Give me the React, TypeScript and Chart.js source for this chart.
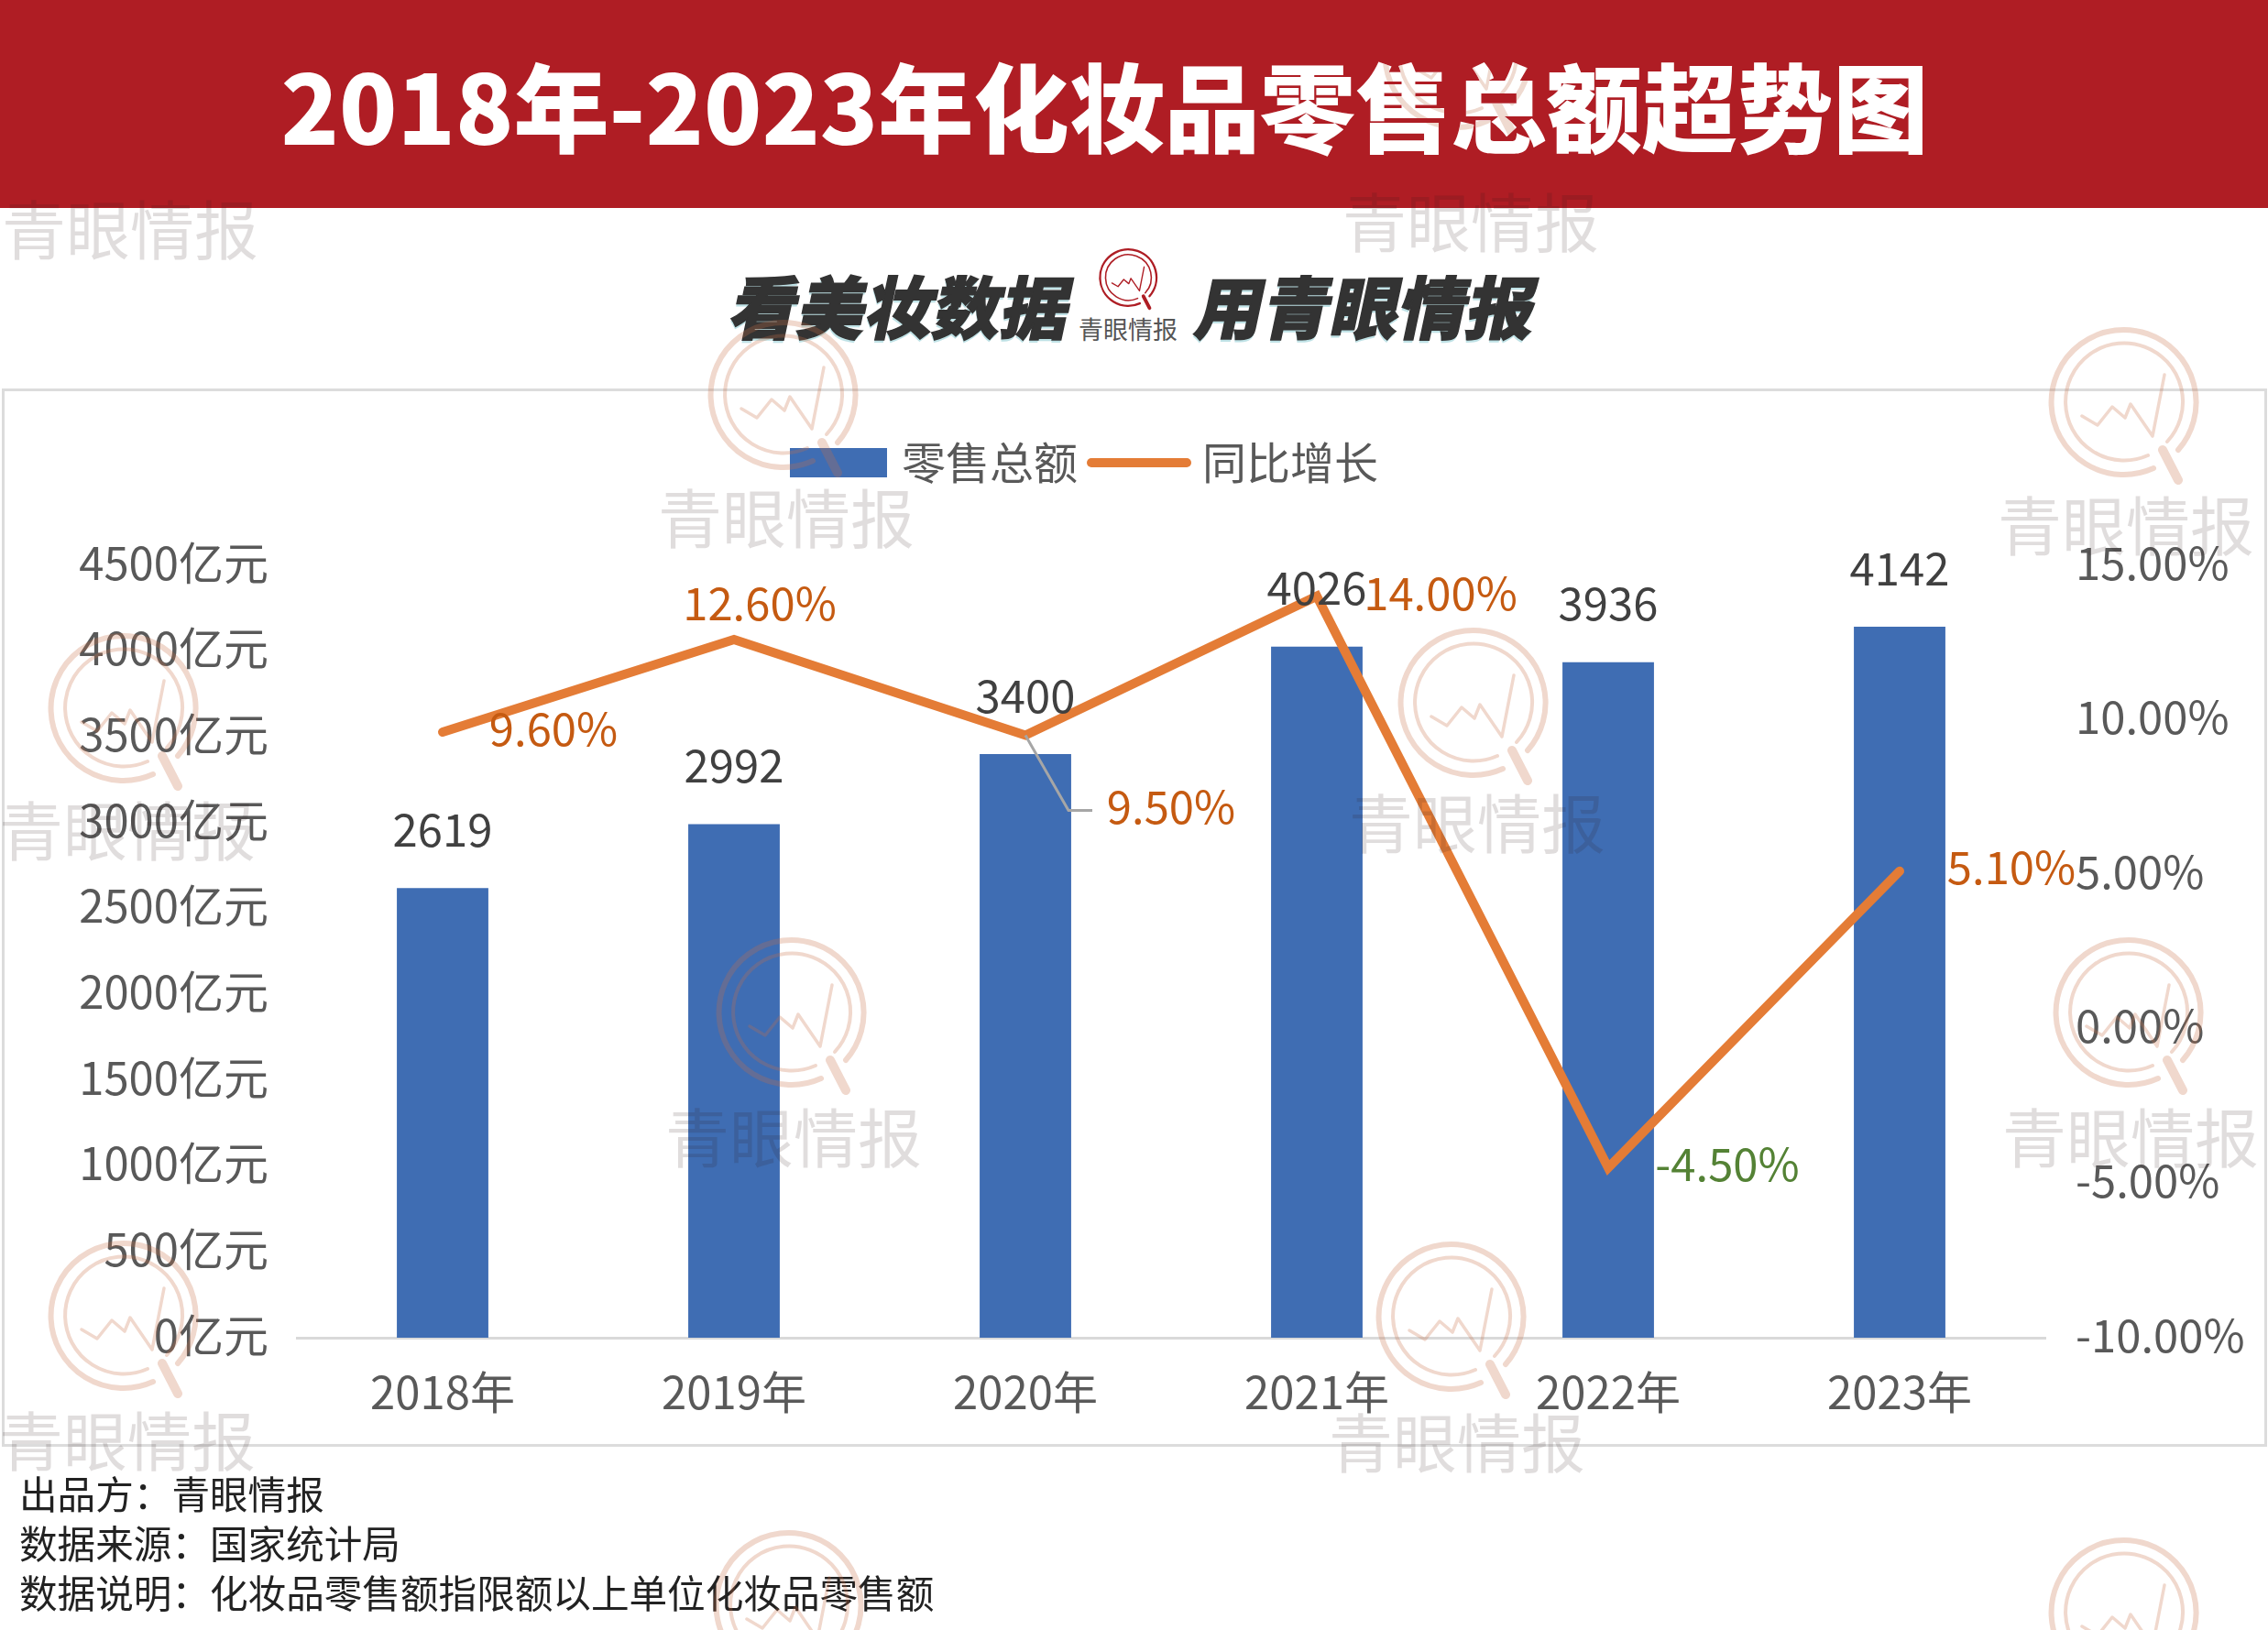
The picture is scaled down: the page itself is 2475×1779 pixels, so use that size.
import React, { useEffect, useRef } from "react";
import { Chart, registerables } from "chart.js";

Chart.register(...registerables);

const categories = ["2018年", "2019年", "2020年", "2021年", "2022年", "2023年"];
const retailTotals = [2619, 2992, 3400, 4026, 3936, 4142];
const yoyGrowth = [9.6, 12.6, 9.5, 14.0, -4.5, 5.1];
const seriesNames = ["零售总额", "同比增长"];
const titleText = "2018年-2023年化妆品零售总额超势图";
const footerLines = ["出品方:青眼情报", "数据来源:国家统计局", "数据说明:化妆品零售额指限额以上单位化妆品零售额"].map((s) => s.replace(":", "\uFF1A"));

const growthLabelOffsets = [[121, -4], [28, -40], [159, 78], [135, -3], [130, -4], [122, -4]];
const wmTexts = [[142, 250], [1605, 242], [858, 565], [2320, 573], [139, 906], [1612, 898], [866, 1241], [2325, 1241], [139, 1572], [1590, 1574]];
const wmIcons = [[854, 431], [2317, 439], [134, 773], [1607, 767], [863, 1105], [2322, 1105], [134, 1436], [1583, 1437], [860, 1752], [2317, 1760]];
const titleWmIcon = [1590, 60];

const FONT = '"Noto Sans CJK SC", "Noto Sans", sans-serif';
const BLUE = "#3F6DB3";
const ORANGE = "#E47C36";
const BAR_GREY = "#595959";

function legendSwatch(w: number, h: number, color: string, round: boolean) {
  const c = document.createElement("canvas");
  c.width = w;
  c.height = h;
  const x = c.getContext("2d")!;
  x.fillStyle = color;
  if (round) {
    x.beginPath();
    x.roundRect(0, 0, w, h, h / 2);
    x.fill();
  } else {
    x.fillRect(0, 0, w, h);
  }
  return c;
}

const placementPlugin = {
  id: "placement",
  afterLayout(chart: any) {
    const l = chart.legend;
    if (!l) return;
    l.left = 848;
    l.right = 2400;
    l.top = 459;
  },
};

const labelPlugin = {
  id: "dataLabels",
  afterDatasetsDraw(chart: any) {
    const { ctx } = chart;
    const x = chart.scales.x;
    const yL = chart.scales.yL;
    const yR = chart.scales.yR;
    ctx.save();
    ctx.font = `49px ${FONT}`;
    ctx.textAlign = "center";
    ctx.textBaseline = "middle";
    retailTotals.forEach((v, i) => {
      ctx.fillStyle = "#404040";
      ctx.fillText(String(v), x.getPixelForValue(i), yL.getPixelForValue(v) - 64);
    });
    // leader line of the 2020 label
    const px = x.getPixelForValue(2);
    const py = yR.getPixelForValue(yoyGrowth[2]);
    ctx.strokeStyle = "#A6A6A6";
    ctx.lineWidth = 3;
    ctx.beginPath();
    ctx.moveTo(px, py);
    ctx.lineTo(px + 47, py + 82);
    ctx.lineTo(px + 73, py + 82);
    ctx.stroke();
    yoyGrowth.forEach((v, i) => {
      ctx.fillStyle = v < 0 ? "#548235" : "#C55A11";
      const [dx, dy] = growthLabelOffsets[i];
      ctx.fillText(`${v.toFixed(2)}%`, x.getPixelForValue(i) + dx, yR.getPixelForValue(v) + dy);
    });
    ctx.restore();
  },
};

function Icon({ cx, cy, scale, color, opacity }: any) {
  return (
    <g transform={`translate(${cx} ${cy}) scale(${scale})`} fill="none" stroke={color} strokeLinecap="round" strokeLinejoin="round" opacity={opacity}>
      <path d="M 60 52 A 79 79 0 1 0 33 72" strokeWidth={6} />
      <path d="M 48 43 A 64 64 0 1 0 27 58" strokeWidth={4} />
      <polyline points="-45,15 -28,25 -12,5 2,17 8,2 32,37 45,-30" strokeWidth={3.5} />
      <path d="M 43 52 L 60 85" strokeWidth={10} />
    </g>
  );
}

export default function App() {
  const ref = useRef<HTMLCanvasElement>(null);
  useEffect(() => {
    document.body.style.margin = "0";
    document.body.style.background = "#fff";
    const swatches = [legendSwatch(106, 32, BLUE, false), legendSwatch(114, 10, ORANGE, true)];
    const chart = new Chart(ref.current!, {
      type: "bar",
      data: {
        labels: categories,
        datasets: [
          { type: "line", label: seriesNames[1], data: yoyGrowth, yAxisID: "yR", borderColor: ORANGE, borderWidth: 10, pointRadius: 0, tension: 0, order: 0, borderJoinStyle: "miter", borderCapStyle: "round" } as any,
          { type: "bar", label: seriesNames[0], data: retailTotals, yAxisID: "yL", backgroundColor: BLUE, barPercentage: 1, categoryPercentage: 0.314, order: 1 } as any,
        ],
      },
      plugins: [placementPlugin, labelPlugin],
      options: {
        responsive: false,
        animation: false,
        layout: { padding: { left: 64, right: 3, top: 537, bottom: 219 } },
        plugins: {
          title: { display: false },
          tooltip: { enabled: false },
          legend: {
            display: true,
            position: "top",
            align: "start",
            labels: {
              usePointStyle: true,
              pointStyleWidth: 90,
              boxHeight: 32,
              boxWidth: 90,
              padding: 22,
              font: { family: FONT, size: 48 },
              color: BAR_GREY,
              generateLabels: () => [
                { text: seriesNames[0], pointStyle: swatches[0], fontColor: BAR_GREY, lineWidth: 0, strokeStyle: "transparent", fillStyle: BLUE, hidden: false, datasetIndex: 1 },
                { text: seriesNames[1], pointStyle: swatches[1], fontColor: BAR_GREY, lineWidth: 0, strokeStyle: "transparent", fillStyle: ORANGE, hidden: false, datasetIndex: 0 },
              ],
            },
          },
        },
        scales: {
          x: {
            grid: { display: false, drawTicks: false },
            border: { display: true, color: "#D9D9D9", width: 3 },
            ticks: { color: BAR_GREY, font: { family: FONT, size: 49 }, padding: 30, maxRotation: 0 },
            afterFit(s: any) { s.height = 100; },
          },
          yL: {
            type: "linear",
            position: "left",
            min: 0,
            max: 4500,
            grid: { display: false, drawTicks: false },
            border: { display: false },
            ticks: { stepSize: 500, color: BAR_GREY, font: { family: FONT, size: 49 }, padding: 31, labelOffset: -3, callback: (v: any) => `${v}亿元` },
            afterFit(s: any) { s.width = 260; },
          },
          yR: {
            type: "linear",
            position: "right",
            min: -10,
            max: 15,
            grid: { display: false, drawTicks: false },
            border: { display: false },
            ticks: { stepSize: 5, color: BAR_GREY, font: { family: FONT, size: 49 }, padding: 33, labelOffset: -3, callback: (v: any) => `${Number(v).toFixed(2)}%` },
            afterFit(s: any) { s.width = 240; },
          },
        },
      },
    } as any);
    return () => chart.destroy();
  }, []);

  const abs: React.CSSProperties = { position: "absolute", whiteSpace: "nowrap", fontFamily: FONT };
  const slogan: React.CSSProperties = { ...abs, top: 280, width: 372, textAlign: "center", color: "#333", fontSize: 74, fontWeight: 900, lineHeight: "104px", transform: "skewX(-12deg)", WebkitTextStroke: "1.5px #333", textShadow: "0 3px 0 #BFE2E6" };
  return (
    <div style={{ position: "absolute", left: 0, top: 0, width: 2475, height: 1779, overflow: "hidden", background: "#fff" }}>
      <div style={{ position: "absolute", left: 0, top: 0, width: 2475, height: 227, background: "#AF1D24" }} />
      <div style={{ ...abs, left: 0, width: 2411, top: 43, textAlign: "center", color: "#fff", fontSize: 104.2, fontWeight: 900, lineHeight: "140px" }}>{titleText}</div>

      <div style={{ ...slogan, left: 799 }}>看美妆数据</div>
      <div style={{ ...slogan, left: 1307 }}>用青眼情报</div>
      <div style={{ ...abs, left: 1171, top: 340, width: 120, textAlign: "center", color: "#555", fontSize: 27, lineHeight: "38px" }}>青眼情报</div>
      <svg width={2475} height={1779} style={{ position: "absolute", left: 0, top: 0, pointerEvents: "none" }}>
        <Icon cx={1231} cy={303} scale={0.39} color="#AE1D24" opacity={1} />
      </svg>

      <div style={{ position: "absolute", left: 2, top: 424, width: 2466, height: 1149, border: "3px solid #DCDCDC" }} />
      <canvas ref={ref} width={2475} height={1779} style={{ position: "absolute", left: 0, top: 0, display: "block" }} />

      {footerLines.map((t, i) => (
        <div key={i} style={{ ...abs, left: 21, top: 1601 + i * 54, color: "#222", fontSize: 41.6, lineHeight: "56px" }}>{t}</div>
      ))}

      <div style={{ position: "absolute", left: 0, top: 0, width: 2475, height: 1779, pointerEvents: "none" }}>
        <svg width={2475} height={1779} style={{ position: "absolute", left: 0, top: 0 }}>
          {wmIcons.map(([cx, cy], i) => (
            <Icon key={i} cx={cx} cy={cy} scale={1} color="rgb(200,110,70)" opacity={0.27} />
          ))}
        </svg>
        <svg width={2475} height={240} style={{ position: "absolute", left: 0, top: 0, mixBlendMode: "darken" }}>
          <Icon cx={titleWmIcon[0]} cy={titleWmIcon[1]} scale={1} color="#EFDAD0" opacity={1} />
        </svg>
        {wmTexts.map(([cx, cy], i) => (
          <div key={i} style={{ ...abs, left: cx - 150, top: cy - 52, width: 300, textAlign: "center", color: "rgba(50,30,25,0.15)", fontSize: 70, lineHeight: "100px", fontWeight: 400 }}>青眼情报</div>
        ))}
      </div>
    </div>
  );
}
